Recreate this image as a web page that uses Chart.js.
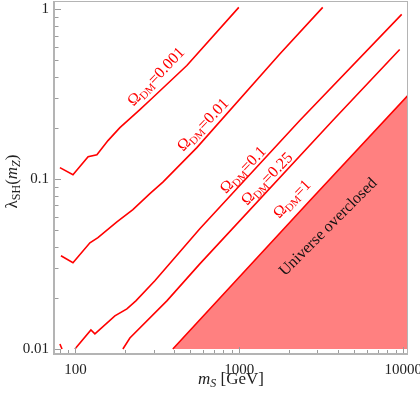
<!DOCTYPE html>
<html>
<head>
<meta charset="utf-8">
<script src="https://cdn.jsdelivr.net/npm/chart.js@4.4.0/dist/chart.umd.min.js"></script>
<style>
  html, body { margin: 0; padding: 0; background: #fff; }
  #wrap { width: 420px; height: 398px; }
</style>
</head>
<body>
<div id="wrap"><canvas id="chart" width="420" height="398"></canvas></div>
<script>
// relic density contours: m_S [GeV] vs lambda_SH(m_Z)
const massOmega0001 = [80.4, 96.6, 119.5, 135.2, 158, 186.8, 247.4, 296.9, 478.6, 993];
const lambdaOmega0001 = [0.117, 0.1063, 0.1357, 0.1394, 0.1687, 0.2012, 0.257, 0.3025, 0.4673, 1.027];

const massOmega001 = [81.6, 96.6, 122.6, 137.2, 179.1, 224.2, 284.7, 341.7, 550.7, 1766, 3229];
const lambdaOmega001 = [0.0354, 0.0322, 0.0422, 0.0452, 0.0561, 0.0661, 0.0821, 0.096, 0.1534, 0.5464, 1.027];

const massOmega01Low = [80.4, 82.8];
const lambdaOmega01Low = [0.0107, 0.01];
const massOmega01 = [99.3, 124.3, 131.5, 174.1, 206.1, 233.8, 305.3, 574.2, 2338, 9793];
const lambdaOmega01 = [0.01, 0.01294, 0.01226, 0.01566, 0.01722, 0.0192, 0.0252, 0.0511, 0.2214, 0.934];

const massOmega025 = [194.8, 214.9, 361.4, 574.2, 3717, 9521];
const lambdaOmega025 = [0.01, 0.01161, 0.0192, 0.0317, 0.2214, 0.5808];

const massOmega1 = [393, 2691, 10700];
const lambdaOmega1 = [0.01, 0.0747, 0.312];

const xTickValues = [100, 1000, 10000];
const yTickValues = [0.01, 0.1, 1];
const xMinorTicks = [80, 90, 200, 300, 400, 500, 600, 700, 800, 900, 2000, 3000, 4000, 5000, 6000, 7000, 8000, 9000];
const yMinorTicks = [0.02, 0.03, 0.04, 0.05, 0.06, 0.07, 0.08, 0.09, 0.2, 0.3, 0.4, 0.5, 0.6, 0.7, 0.8, 0.9];

// contour labels, anchored in data coordinates
const contourNames = ["0.001", "0.01", "0.1", "0.25", "1"];
const labelMass = [309.7, 599, 1050, 1472, 2089];
const labelLambda = [0.4025, 0.2097, 0.1138, 0.1007, 0.0767];
const overclosedMass = 3464;
const overclosedLambda = 0.0525;

const RED = 'rgb(255,0,0)';
const SERIF = '"Liberation Serif", "Times New Roman", "DejaVu Serif", serif';

function toPoints(xs, ys) {
    return xs.map((x, i) => ({ x: x, y: ys[i] }));
}

function contour(data) {
    return {
        data: data,
        showLine: true,
        borderColor: RED,
        borderWidth: 1.6,
        pointRadius: 0,
        fill: false
    };
}

// draw a run of text pieces (for sub scripts) centred at cx,cy, rotated
function drawRuns(ctx, runs, cx, cy, angle, color) {
    ctx.save();
    ctx.translate(cx, cy);
    ctx.rotate(angle);
    ctx.fillStyle = color;
    ctx.textBaseline = 'alphabetic';
    ctx.textAlign = 'left';
    let total = 0;
    runs.forEach(r => {
        ctx.font = (r.italic ? 'italic ' : '') + r.size + 'px ' + SERIF;
        r.w = ctx.measureText(r.t).width;
        total += r.w;
    });
    let x = -total / 2;
    runs.forEach(r => {
        ctx.font = (r.italic ? 'italic ' : '') + r.size + 'px ' + SERIF;
        ctx.fillText(r.t, x, 5 + (r.dy || 0));
        x += r.w;
    });
    ctx.restore();
}

const decorPlugin = {
    id: 'decor',
    afterDatasetsDraw(chart) {
        const ctx = chart.ctx;
        const a = chart.chartArea;
        const xs = chart.scales.x;
        const ys = chart.scales.y;
        ctx.save();

        // ticks, drawn inside the frame
        ctx.strokeStyle = '#9c9c9c';
        ctx.lineWidth = 1;
        ctx.beginPath();
        xTickValues.forEach(v => {
            const px = Math.round(xs.getPixelForValue(v)) + 0.5;
            ctx.moveTo(px, a.bottom); ctx.lineTo(px, a.bottom - 7);
        });
        xMinorTicks.forEach(v => {
            const px = Math.round(xs.getPixelForValue(v)) + 0.5;
            ctx.moveTo(px, a.bottom); ctx.lineTo(px, a.bottom - 4);
        });
        yTickValues.forEach(v => {
            const py = Math.round(ys.getPixelForValue(v)) + 0.5;
            ctx.moveTo(a.left, py); ctx.lineTo(a.left + 7, py);
        });
        yMinorTicks.forEach(v => {
            const py = Math.round(ys.getPixelForValue(v)) + 0.5;
            ctx.moveTo(a.left, py); ctx.lineTo(a.left + 4.5, py);
        });
        ctx.stroke();

        // frame
        ctx.strokeStyle = '#b4b4b4';
        ctx.lineWidth = 1;
        ctx.strokeRect(a.left + 0.5, a.top + 0.5, a.right - a.left - 1, a.bottom - a.top - 1);
        ctx.lineWidth = 2;
        ctx.beginPath();
        ctx.moveTo(a.left, a.top); ctx.lineTo(a.left, a.bottom); ctx.lineTo(a.right, a.bottom);
        ctx.stroke();

        // x tick labels
        ctx.fillStyle = '#222';
        ctx.font = '15px ' + SERIF;
        ctx.textAlign = 'center';
        ctx.textBaseline = 'alphabetic';
        xTickValues.forEach(v => {
            ctx.fillText(String(v), xs.getPixelForValue(v), a.bottom + 20);
        });
        ctx.restore();

        // contour labels
        const ang = -46 * Math.PI / 180;
        contourNames.forEach((name, i) => {
            const px = xs.getPixelForValue(labelMass[i]);
            const py = ys.getPixelForValue(labelLambda[i]);
            drawRuns(ctx, [
                { t: 'Ω', size: 16 },
                { t: 'DM', size: 11, dy: 3 },
                { t: '=' + name, size: 16 }
            ], px, py, ang, RED);
        });
        drawRuns(ctx, [{ t: 'Universe overclosed', size: 16 }],
            xs.getPixelForValue(overclosedMass), ys.getPixelForValue(overclosedLambda), -45 * Math.PI / 180, '#111');

        // axis titles
        drawRuns(ctx, [
            { t: 'm', size: 17, italic: true },
            { t: 'S', size: 12, italic: true, dy: 3 },
            { t: ' [GeV]', size: 17 }
        ], (a.left + a.right) / 2, 379, 0, '#222');
        drawRuns(ctx, [
            { t: 'λ', size: 17 },
            { t: 'SH', size: 12, dy: 3 },
            { t: '(', size: 17 },
            { t: 'm', size: 17, italic: true },
            { t: 'Z', size: 12, italic: true, dy: 3 },
            { t: ')', size: 17 }
        ], 12, (a.top + a.bottom) / 2 + 4, -Math.PI / 2, '#222');
    }
};

function noPadding(scale) {
    scale.paddingLeft = 0;
    scale.paddingRight = 0;
    scale.paddingTop = 0;
    scale.paddingBottom = 0;
}

const ctx = document.getElementById('chart').getContext('2d');
new Chart(ctx, {
    type: 'scatter',
    data: {
        datasets: [
            contour(toPoints(massOmega0001, lambdaOmega0001)),
            contour(toPoints(massOmega001, lambdaOmega001)),
            contour(toPoints(massOmega01Low, lambdaOmega01Low)),
            contour(toPoints(massOmega01, lambdaOmega01)),
            contour(toPoints(massOmega025, lambdaOmega025)),
            Object.assign(contour(toPoints(massOmega1, lambdaOmega1)), {
                fill: { value: 0.01 },
                backgroundColor: '#ff8080'
            })
        ]
    },
    options: {
        responsive: false,
        animation: false,
        layout: { padding: { top: 1, right: 12, left: 0, bottom: 0 } },
        plugins: {
            legend: { display: false },
            tooltip: { enabled: false }
        },
        scales: {
            x: {
                type: 'logarithmic',
                min: 74,
                max: 10700,
                grid: { display: false, drawTicks: false },
                border: { display: false },
                afterBuildTicks: s => { s.ticks = xTickValues.map(v => ({ value: v })); },
                afterFit: s => { s.height = 44; noPadding(s); },
                ticks: { display: false }
            },
            y: {
                type: 'logarithmic',
                min: 0.00934,
                max: 1.12,
                grid: { display: false, drawTicks: false },
                border: { display: false },
                afterBuildTicks: s => { s.ticks = yTickValues.map(v => ({ value: v })); },
                afterFit: s => { s.width = 54; noPadding(s); },
                ticks: {
                    padding: 5,
                    autoSkip: false,
                    color: '#222',
                    font: { family: SERIF, size: 15 },
                    callback: v => String(v)
                }
            }
        }
    },
    plugins: [decorPlugin]
});
</script>
</body>
</html>
